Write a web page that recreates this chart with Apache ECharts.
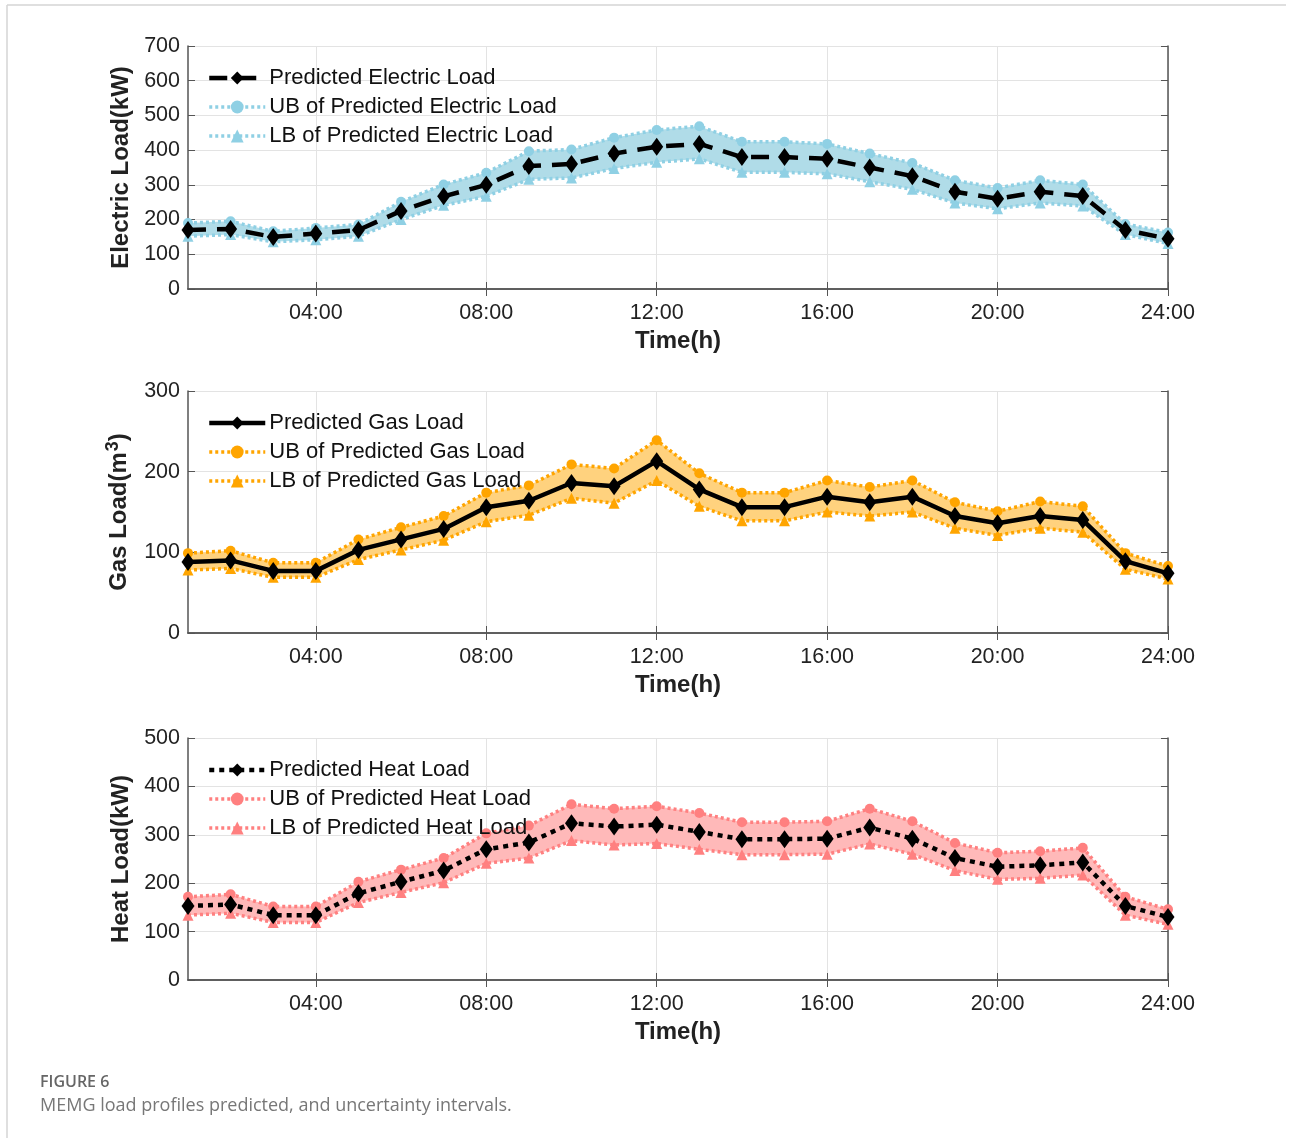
<!DOCTYPE html>
<html>
<head>
<meta charset="utf-8">
<script src="https://cdn.jsdelivr.net/npm/echarts@6/dist/echarts.min.js"></script>
<style>
    html, body {margin: 0; padding: 0; background: #fff;}
    #main {width: 1291px; height: 1138px;}
</style>
</head>
<body>
<div id="main"></div>
<script>
// hours 1..24
var hourLabels = ['01:00', '02:00', '03:00', '04:00', '05:00', '06:00', '07:00', '08:00', '09:00', '10:00', '11:00', '12:00',
    '13:00', '14:00', '15:00', '16:00', '17:00', '18:00', '19:00', '20:00', '21:00', '22:00', '23:00', '24:00'];

var elecPred = [170, 173, 150, 160, 170, 225, 267, 300, 354, 360, 390, 410, 418, 380, 380, 375, 350, 325, 280, 260, 280, 268, 170, 145];
var elecUB = [190, 195, 166, 176, 186, 251, 301, 335, 397, 402, 436, 458, 469, 424, 424, 418, 390, 363, 313, 291, 313, 301, 187, 163];
var elecLB = [152, 157, 136, 142, 152, 200, 241, 267, 316, 320, 347, 365, 375, 336, 336, 332, 309, 287, 248, 231, 248, 239, 157, 131];

var gasPred = [88, 90, 77, 77, 103, 116, 129, 156, 164, 186, 182, 213, 178, 156, 156, 169, 162, 169, 145, 136, 145, 140, 89, 74];
var gasUB = [99, 102, 87, 87, 116, 131, 145, 174, 183, 209, 204, 239, 198, 174, 174, 189, 181, 189, 162, 151, 163, 157, 99, 83];
var gasLB = [78, 80, 69, 69, 91, 103, 115, 138, 146, 167, 161, 189, 157, 139, 139, 150, 145, 150, 130, 121, 130, 125, 79, 67];

var heatPred = [153, 156, 134, 134, 179, 203, 226, 270, 284, 324, 317, 321, 306, 291, 291, 292, 315, 292, 252, 234, 237, 243, 153, 130];
var heatUB = [172, 177, 152, 152, 203, 228, 252, 303, 319, 363, 354, 359, 345, 326, 326, 328, 354, 328, 283, 263, 266, 273, 172, 146];
var heatLB = [134, 138, 119, 119, 160, 181, 201, 241, 252, 288, 279, 282, 270, 259, 259, 260, 281, 260, 226, 208, 210, 217, 134, 115];

var myChart = echarts.init(document.getElementById('main'));

var FONT = "'Liberation Sans', Arial, Helvetica, sans-serif";
var AXIS_COLOR = '#555';
var everyFour = function (i) {
    return (i + 1) % 4 === 0;
};

var panels = [
    {top: 46, height: 243, max: 700, pred: elecPred, ub: elecUB, lb: elecLB,
        yName: 'Electric Load(kW)',
        names: ['Predicted Electric Load', 'UB of Predicted Electric Load', 'LB of Predicted Electric Load'],
        lineColor: '#8fd0e4', fill: '#b0dce8', predType: [18, 11]},
    {top: 391, height: 242, max: 300, pred: gasPred, ub: gasUB, lb: gasLB,
        yName: '{t|Gas Load(m}{sup|3}{t|)}',
        names: ['Predicted Gas Load', 'UB of Predicted Gas Load', 'LB of Predicted Gas Load'],
        lineColor: '#ffa500', fill: '#ffd27e', predType: 'solid'},
    {top: 738, height: 242, max: 500, pred: heatPred, ub: heatUB, lb: heatLB,
        yName: 'Heat Load(kW)',
        names: ['Predicted Heat Load', 'UB of Predicted Heat Load', 'LB of Predicted Heat Load'],
        lineColor: '#ff8080', fill: '#ffb9b9', predType: [5, 5]}
];

var grid = [], xAxis = [], yAxis = [], series = [], legend = [];

panels.forEach(function (p, k) {
    grid.push({left: 188, width: 980, top: p.top, height: p.height});

    xAxis.push({
        type: 'category', gridIndex: k, data: hourLabels, boundaryGap: false,
        name: 'Time(h)', nameLocation: 'middle', nameGap: 40,
        nameTextStyle: {fontFamily: FONT, fontSize: 24, fontWeight: 'bold', color: '#222'},
        axisLine: {lineStyle: {color: AXIS_COLOR, width: 1.5}},
        axisTick: {inside: true, length: 7, interval: everyFour, lineStyle: {color: AXIS_COLOR}},
        axisLabel: {interval: everyFour, margin: 13, fontFamily: FONT, fontSize: 21.5, color: '#222'},
        splitLine: {show: true, interval: everyFour, lineStyle: {color: '#e3e3e3'}}
    });
    xAxis.push({
        type: 'category', gridIndex: k, data: hourLabels, boundaryGap: false, position: 'top',
        axisLine: {lineStyle: {color: AXIS_COLOR, width: 1.5}},
        axisTick: {inside: true, length: 7, interval: everyFour, lineStyle: {color: AXIS_COLOR}},
        axisLabel: {show: false}, splitLine: {show: false}
    });

    yAxis.push({
        type: 'value', gridIndex: k, min: 0, max: p.max, interval: 100,
        name: p.yName, nameLocation: 'middle', nameGap: 53,
        nameTextStyle: {
            fontFamily: FONT, fontSize: 24, fontWeight: 'bold', color: '#222',
            rich: {
                t: {fontFamily: FONT, fontSize: 24, fontWeight: 'bold', color: '#222'},
                sup: {fontFamily: FONT, fontSize: 18, fontWeight: 'bold', color: '#222', verticalAlign: 'top', padding: [0, 0, 13, 1]}
            }
        },
        axisLine: {show: true, lineStyle: {color: AXIS_COLOR, width: 1.5}},
        axisTick: {show: true, inside: true, length: 7, lineStyle: {color: AXIS_COLOR}},
        axisLabel: {margin: 8, fontFamily: FONT, fontSize: 21.5, color: '#222'},
        splitLine: {show: true, lineStyle: {color: '#e3e3e3'}}
    });
    yAxis.push({
        type: 'value', gridIndex: k, min: 0, max: p.max, interval: 100, position: 'right',
        axisLine: {show: true, lineStyle: {color: AXIS_COLOR, width: 1.5}},
        axisTick: {show: true, inside: true, length: 7, lineStyle: {color: AXIS_COLOR}},
        axisLabel: {show: false}, splitLine: {show: false}
    });

    var xi = k * 2, yi = k * 2;
    var bandWidth = p.ub.map(function (v, i) {
        return v - p.lb[i];
    });

    // shaded interval: stacked base + width
    series.push({
        type: 'line', xAxisIndex: xi, yAxisIndex: yi, stack: 'band' + k, data: p.lb,
        symbol: 'none', silent: true, lineStyle: {opacity: 0}, z: 1
    });
    series.push({
        type: 'line', xAxisIndex: xi, yAxisIndex: yi, stack: 'band' + k, data: bandWidth,
        symbol: 'none', silent: true, lineStyle: {opacity: 0},
        areaStyle: {color: p.fill, opacity: 1}, z: 1
    });

    series.push({
        name: p.names[1], type: 'line', xAxisIndex: xi, yAxisIndex: yi, data: p.ub,
        symbol: 'circle', symbolSize: 10, itemStyle: {color: p.lineColor},
        lineStyle: {color: p.lineColor, width: 3.5, type: [3, 3]}, z: 3
    });
    series.push({
        name: p.names[2], type: 'line', xAxisIndex: xi, yAxisIndex: yi, data: p.lb,
        symbol: 'triangle', symbolSize: 11, itemStyle: {color: p.lineColor},
        lineStyle: {color: p.lineColor, width: 3.5, type: [3, 3]}, z: 3
    });
    series.push({
        name: p.names[0], type: 'line', xAxisIndex: xi, yAxisIndex: yi, data: p.pred,
        symbol: 'diamond', symbolSize: [13, 18], itemStyle: {color: '#000'},
        lineStyle: {color: '#000', width: 4.5, type: p.predType}, z: 4
    });

    legend.push({
        data: p.names, orient: 'vertical', left: 207, top: p.top + 21, padding: 0,
        itemWidth: 56, itemHeight: 16, itemGap: 7,
        lineStyle: {width: 'inherit'},
        textStyle: {fontFamily: FONT, fontSize: 22, color: '#111', padding: [0, 0, 0, -1]},
        selectedMode: false
    });
});

var option = {
    animation: false,
    backgroundColor: '#fff',
    grid: grid,
    xAxis: xAxis,
    yAxis: yAxis,
    legend: legend,
    series: series,
    graphic: [
        {type: 'line', shape: {x1: 7, y1: 5, x2: 1286, y2: 5}, style: {stroke: '#d4d4d4', lineWidth: 1.5}},
        {type: 'line', shape: {x1: 7, y1: 5, x2: 7, y2: 1138}, style: {stroke: '#d4d4d4', lineWidth: 1.5}},
        {type: 'text', left: 40, top: 1074, style: {text: 'FIGURE 6', font: '600 16px "Open Sans", sans-serif', fill: '#666'}},
        {type: 'text', left: 40, top: 1097, style: {text: 'MEMG load profiles predicted, and uncertainty intervals.', font: '18px "Open Sans", sans-serif', fill: '#777'}}
    ]
};

myChart.setOption(option);
</script>
</body>
</html>
